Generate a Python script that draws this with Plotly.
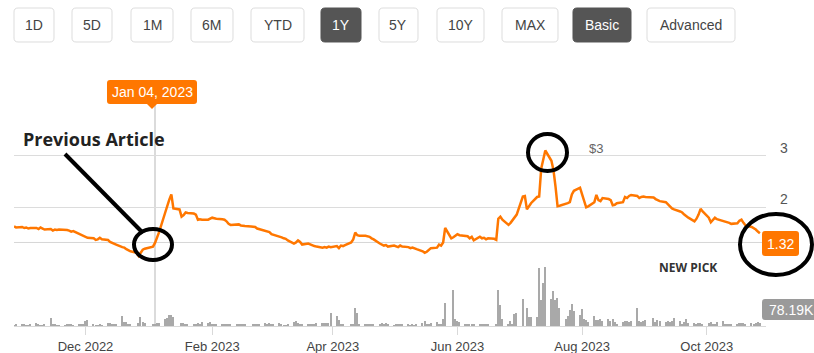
import pandas as pd
import plotly.graph_objects as go

# ---------------- data ----------------
dates = pd.bdate_range("2022-10-27", "2023-10-27")

price = [
    1.63, 1.61,
    1.62, 1.60, 1.61, 1.59, 1.60,
    1.60, 1.58, 1.61, 1.59, 1.57,
    1.58, 1.55, 1.57, 1.56, 1.57,
    1.57, 1.56, 1.55, 1.53, 1.54,
    1.48, 1.46, 1.44, 1.42, 1.41,
    1.40, 1.37, 1.38, 1.41, 1.38,
    1.37, 1.33, 1.31, 1.29, 1.28,
    1.23, 1.22, 1.19, 1.17, 1.15,
    1.12, 1.06, 1.12, 1.18, 1.20,
    1.22, 1.24, 1.31, 1.40, 1.52,
    1.90, 2.05, 2.15, 2.25, 1.98,
    1.96, 1.82, 1.85, 1.90, 1.89,
    1.88, 1.86, 1.76, 1.77, 1.76,
    1.76, 1.78, 1.80, 1.79, 1.78,
    1.77, 1.76, 1.73, 1.68, 1.66,
    1.66, 1.67, 1.65, 1.64, 1.64,
    1.63, 1.63, 1.62, 1.59, 1.58,
    1.55, 1.54, 1.52, 1.48, 1.47,
    1.44, 1.42, 1.40, 1.39, 1.36,
    1.30, 1.32, 1.36, 1.33, 1.28,
    1.30, 1.28, 1.27, 1.25, 1.24,
    1.22, 1.23, 1.22, 1.24, 1.23,
    1.25, 1.21, 1.26, 1.25, 1.27,
    1.32, 1.38, 1.51, 1.46, 1.45,
    1.45, 1.44, 1.43, 1.40, 1.38,
    1.30, 1.28, 1.26, 1.27, 1.24,
    1.26, 1.25, 1.23, 1.26, 1.24,
    1.23, 1.21, 1.22, 1.20, 1.19,
    1.15, 1.12, 1.14, 1.18, 1.21,
    1.22, 1.28, 1.26, 1.32, 1.60,
    1.40, 1.42, 1.46, 1.48, 1.46,
    1.45, 1.44, 1.40, 1.43, 1.36,
    1.43, 1.40, 1.41, 1.38, 1.40,
    1.39, 1.37, 1.78, 1.82, 1.76,
    1.66, 1.70, 1.76, 1.80, 1.86,
    2.21, 2.22, 1.96, 2.02, 2.08,
    2.20, 2.21, 2.75, 2.95, 3.10,
    2.90, 2.72, 2.40, 2.02, 2.03,
    2.06, 2.08, 2.10, 2.25, 2.32,
    2.38, 2.25, 2.12, 2.00, 2.02,
    2.10, 2.24, 2.14, 2.12, 2.18,
    2.16, 2.14, 2.04, 2.05, 2.08,
    2.10, 2.20, 2.18, 2.22, 2.24,
    2.22, 2.18, 2.20, 2.21, 2.20,
    2.20, 2.19, 2.16, 2.14, 2.12,
    2.10, 2.05, 2.02, 1.98, 1.96,
    1.92, 1.90, 1.86, 1.82, 1.80,
    1.73, 1.78, 1.86, 1.97, 1.92,
    1.80, 1.71, 1.76, 1.80, 1.77,
    1.74, 1.73, 1.71, 1.70, 1.68,
    1.69, 1.74, 1.76, 1.70, 1.65,
    1.62, 1.60, 1.57, 1.53, 1.50,
]

volume_k = [
    25, 30,
    50, 30, 25, 20, 30,
    75, 30, 20, 25, 30,
    200, 50, 45, 25, 20,
    25, 30, 50, 45, 20,
    50, 45, 55, 120, 150,
    50, 25, 20, 30, 25,
    70, 75, 45, 40, 30,
    250, 100, 95, 45, 50,
    0, 70, 225, 100, 75,
    0, 50, 40, 75, 70,
    175, 200, 280, 270, 225,
    0, 70, 65, 55, 60,
    60, 55, 65, 60, 100,
    75, 100, 60, 55, 60,
    40, 50, 45, 50, 40,
    50, 45, 40, 45, 50,
    0, 50, 45, 40, 55,
    75, 40, 75, 50, 40,
    75, 30, 25, 25, 50,
    100, 125, 75, 40, 30,
    50, 45, 50, 45, 75,
    75, 70, 80, 65, 325,
    250, 150, 50, 45, 0,
    50, 60, 450, 325, 50,
    45, 50, 40, 45, 50,
    45, 75, 50, 70, 45,
    25, 40, 60, 50, 30,
    30, 25, 30, 25, 40,
    75, 125, 60, 45, 75,
    100, 60, 50, 175, 575,
    0, 900, 175, 125, 100,
    40, 50, 45, 50, 40,
    50, 45, 50, 40, 35,
    0, 50, 900, 525, 175,
    50, 125, 60, 300, 325,
    675, 0, 450, 225, 225,
    225, 1450, 650, 1075, 1475,
    675, 875, 650, 700, 450,
    175, 250, 400, 550, 375,
    275, 425, 175, 150, 100,
    250, 150, 150, 175, 125,
    175, 125, 175, 100, 50,
    100, 125, 125, 90, 125,
    450, 125, 100, 125, 150,
    0, 200, 100, 150, 125,
    100, 125, 110, 125, 200,
    125, 50, 100, 175, 80,
    70, 50, 75, 80, 60,
    75, 100, 50, 60, 100,
    125, 60, 50, 50, 60,
    60, 75, 75, 70, 60,
    70, 60, 75, 90, 78.19,
]

last_price = 1.32
last_price_label = "1.32"
last_volume_label = "78.19K"
marker_date = "2023-01-04"
marker_label = "Jan 04, 2023"
price_ticks = [1, 2, 3, 4]
price_ticktext = ["", "2", "3", ""]
month_ticks = ["2022-12-01", "2023-02-01", "2023-04-01", "2023-06-01", "2023-08-01", "2023-10-01"]
month_labels = ["Dec 2022", "Feb 2023", "Apr 2023", "Jun 2023", "Aug 2023", "Oct 2023"]
range_buttons = ["1D", "5D", "1M", "6M", "YTD", "1Y", "5Y", "10Y", "MAX", "Basic", "Advanced"]
active_buttons = ["1Y", "Basic"]

# ---------------- layout helpers (pixel -> paper) ----------------
W, H = 814, 353
ML, MR, MT, MB = 14, 48, 0, 27
PW = W - ML - MR
PH = H - MT - MB


def px(x):
    return (x - ML) / PW


def py(y):
    return (H - MB - y) / PH


def rrect(x0, y0, x1, y1, r):
    pts = [
        ("M", [(x0 + r, y0)]), ("L", [(x1 - r, y0)]), ("Q", [(x1, y0), (x1, y0 + r)]),
        ("L", [(x1, y1 - r)]), ("Q", [(x1, y1), (x1 - r, y1)]),
        ("L", [(x0 + r, y1)]), ("Q", [(x0, y1), (x0, y1 - r)]),
        ("L", [(x0, y0 + r)]), ("Q", [(x0, y0), (x0 + r, y0)]),
    ]
    s = ""
    for cmd, ps in pts:
        s += cmd + " ".join(f"{px(a):.5f},{py(b):.5f}" for a, b in ps) + " "
    return s + "Z"


ORANGE = "#ff7700"
FONT = "Liberation Sans, Arial, sans-serif"

fig = go.Figure()
fig.add_trace(go.Bar(
    x=dates, y=volume_k, xaxis="x", yaxis="y2",
    marker=dict(color="#a9a9a9", line=dict(width=0)),
    width=0.7 * 86400000, hoverinfo="skip", showlegend=False,
))
fig.add_trace(go.Scatter(
    x=dates, y=price, xaxis="x", yaxis="y", mode="lines",
    line=dict(color=ORANGE, width=2.5), showlegend=False,
))

shapes = []
annotations = []

# crosshair & last-price line
shapes.append(dict(type="line", xref="x", yref="paper", x0=marker_date, x1=marker_date,
                   y0=0, y1=py(104), line=dict(color="#cfcfcf", width=1.5), layer="below"))
shapes.append(dict(type="line", xref="paper", yref="y", x0=0, x1=1, y0=last_price, y1=last_price,
                   line=dict(color="#d6d6d6", width=1), layer="below"))

# range buttons
btn_pos = [(14, 54), (72, 112), (131, 173), (191, 233), (251, 304), (321, 361),
           (379, 418), (437, 484), (502, 558), (573, 631), (647, 735)]
for label, (x0, x1) in zip(range_buttons, btn_pos):
    on = label in active_buttons
    shapes.append(dict(type="path", xref="paper", yref="paper", path=rrect(x0, 8, x1, 42, 4),
                       fillcolor="#555555" if on else "#ffffff",
                       line=dict(color="#555555" if on else "#dddddd", width=1)))
    annotations.append(dict(xref="paper", yref="paper", x=px((x0 + x1) / 2), y=py(25),
                            text=label, showarrow=False, xanchor="center", yanchor="middle",
                            font=dict(family=FONT, size=14, color="#ffffff" if on else "#444444")))

# date marker label
shapes.append(dict(type="path", xref="paper", yref="paper", path=rrect(107, 80, 197, 104, 3),
                   fillcolor=ORANGE, line=dict(width=0)))
shapes.append(dict(type="path", xref="paper", yref="paper",
                   path=f"M{px(146):.5f},{py(103):.5f} L{px(158):.5f},{py(103):.5f} L{px(152):.5f},{py(109):.5f} Z",
                   fillcolor=ORANGE, line=dict(width=0)))
annotations.append(dict(xref="paper", yref="paper", x=px(152), y=py(92), text=marker_label,
                        showarrow=False, xanchor="center", yanchor="middle",
                        font=dict(family=FONT, size=14, color="#ffffff")))

# last price label
shapes.append(dict(type="path", xref="paper", yref="paper", path=rrect(762, 231, 799, 256, 3),
                   fillcolor=ORANGE, line=dict(width=0)))
annotations.append(dict(xref="paper", yref="paper", x=px(780.5), y=py(244), text=last_price_label,
                        showarrow=False, xanchor="center", yanchor="middle",
                        font=dict(family=FONT, size=14, color="#ffffff")))

# last volume label
shapes.append(dict(type="path", xref="paper", yref="paper", path=rrect(762, 299, 822, 320, 3),
                   fillcolor="#9a9a9a", line=dict(width=0)))
annotations.append(dict(xref="paper", yref="paper", x=px(767), y=py(309.5), text=last_volume_label,
                        showarrow=False, xanchor="left", yanchor="middle",
                        font=dict(family=FONT, size=14, color="#ffffff")))

# hand-drawn annotations
annotations.append(dict(xref="paper", yref="paper", x=px(21), y=py(139), text="<b>Previous Article</b>",
                        showarrow=False, xanchor="left", yanchor="middle",
                        font=dict(family="Open Sans, sans-serif", size=18, color="#222222")))
annotations.append(dict(xref="paper", yref="paper", x=px(688), y=py(267), text="<b>NEW PICK</b>",
                        showarrow=False, xanchor="center", yanchor="middle",
                        font=dict(family="Open Sans, sans-serif", size=12, color="#333333")))
annotations.append(dict(xref="paper", yref="paper", x=px(596), y=py(148), text="$3",
                        showarrow=False, xanchor="center", yanchor="middle",
                        font=dict(family=FONT, size=13, color="#666666")))

shapes.append(dict(type="line", xref="paper", yref="paper", x0=px(65), y0=py(154), x1=px(143), y1=py(233),
                   line=dict(color="#000000", width=4)))
for (x0, y0, x1, y1) in [(134, 229, 172, 260), (528, 134, 567, 171), (740, 214, 812, 275)]:
    shapes.append(dict(type="circle", xref="paper", yref="paper", x0=px(x0), y0=py(y1), x1=px(x1), y1=py(y0),
                       line=dict(color="#000000", width=4)))

fig.update_layout(
    width=W, height=H,
    margin=dict(l=ML, r=MR, t=MT, b=MB, pad=0),
    paper_bgcolor="#ffffff", plot_bgcolor="#ffffff",
    showlegend=False, bargap=0,
    xaxis=dict(type="date", anchor="y2", range=["2022-10-27", "2023-10-30"],
               showgrid=False, zeroline=False, showline=True, linecolor="#d9d9d9", linewidth=1,
               ticks="outside", ticklen=8, tickcolor="#d9d9d9",
               tickvals=month_ticks, ticktext=month_labels,
               tickfont=dict(family=FONT, size=13, color="#444444")),
    yaxis=dict(domain=[py(259), py(104)], range=[1, 4], side="right", anchor="x",
               tickvals=price_ticks, ticktext=price_ticktext,
               showgrid=True, gridcolor="#dcdcdc", gridwidth=1, zeroline=False, showline=False,
               ticks="", ticklabelstandoff=13, ticklabelshift=-8,
               tickfont=dict(family=FONT, size=14, color="#555555")),
    yaxis2=dict(domain=[0, py(265)], range=[0, 1525], anchor="x",
                showgrid=False, zeroline=False, showticklabels=False, showline=False),
    shapes=shapes, annotations=annotations,
)

fig.write_html("out.html", config={"displayModeBar": False})
